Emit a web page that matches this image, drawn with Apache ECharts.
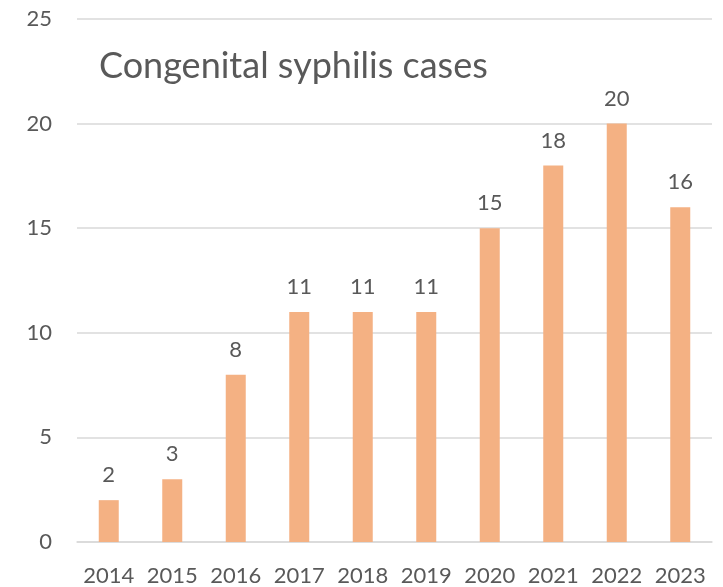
<!DOCTYPE html>
<html>
<head>
<meta charset="utf-8">
<script src="https://cdn.jsdelivr.net/npm/echarts@6/dist/echarts.min.js"></script>
<style>
  html, body { margin: 0; padding: 0; background: #fff; }
  #chart { width: 723px; height: 587px; }
</style>
</head>
<body>
<div id="chart"></div>
<script>
const years = ["2014", "2015", "2016", "2017", "2018", "2019", "2020", "2021", "2022", "2023"];
const cases = [2, 3, 8, 11, 11, 11, 15, 18, 20, 16];
const titleText = "Congenital syphilis cases";

const textColor = "#595959";
const font = "Lato";

const myChart = echarts.init(document.getElementById("chart"));
myChart.setOption({
  animation: false,
  title: {
    text: titleText,
    left: 94,
    top: 43,
    textStyle: {
      color: textColor,
      fontFamily: font,
      fontWeight: "normal",
      fontSize: 36
    }
  },
  grid: {
    left: 77,
    right: 11,
    top: 19,
    bottom: 45,
    containLabel: false
  },
  xAxis: {
    type: "category",
    data: years,
    axisLine: { show: true, lineStyle: { color: "#d9d9d9", width: 1.5 } },
    axisTick: { show: false },
    axisLabel: { interval: 0, color: textColor, fontFamily: font, fontSize: 22, margin: 23 }
  },
  yAxis: {
    type: "value",
    min: 0,
    max: 25,
    interval: 5,
    axisLine: { show: false },
    axisTick: { show: false },
    axisLabel: { color: textColor, fontFamily: font, fontSize: 22, margin: 25 },
    splitLine: { lineStyle: { color: "#d9d9d9", width: 1.5 } }
  },
  series: [
    {
      type: "bar",
      data: cases,
      barWidth: 20,
      itemStyle: { color: "#F4B183" },
      label: {
        show: true,
        position: "top",
        distance: 14,
        color: textColor,
        fontFamily: font,
        fontSize: 22
      }
    }
  ]
});
</script>
</body>
</html>
